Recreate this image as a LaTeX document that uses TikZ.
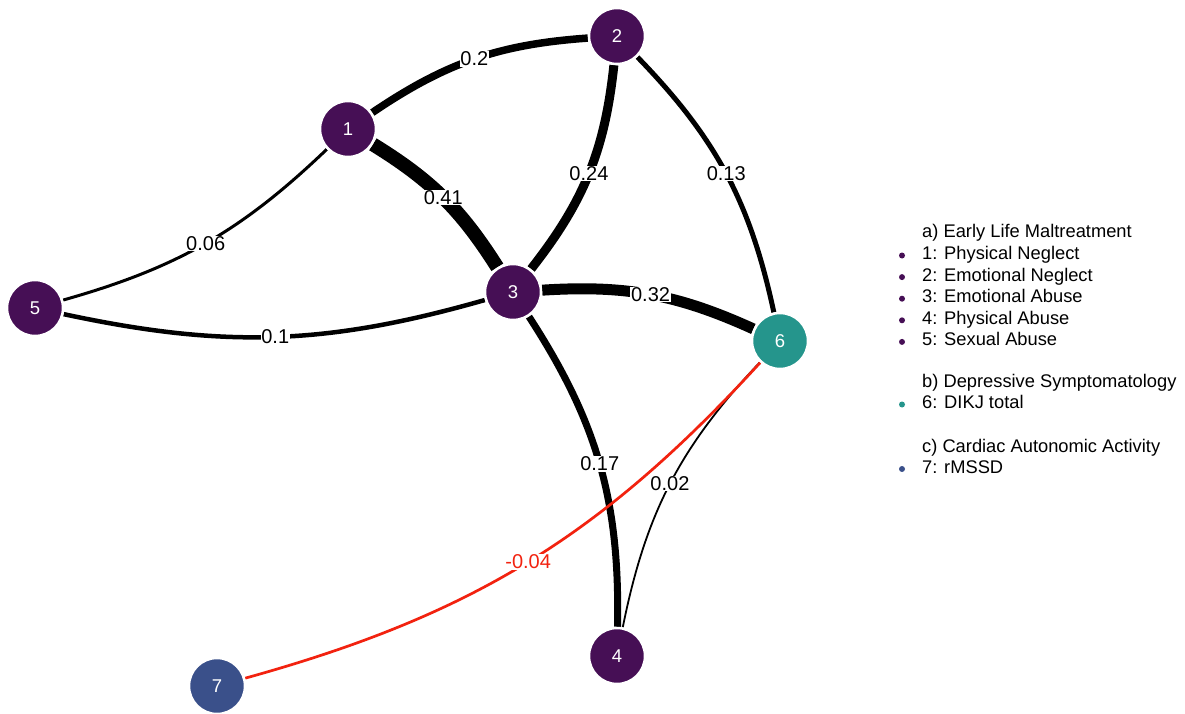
\documentclass[tikz,border=0pt]{standalone}
\usepackage{fontspec}
\setmainfont{Liberation Sans}
\definecolor{cpurple}{HTML}{460F55}
\definecolor{cteal}{HTML}{25958C}
\definecolor{cblue}{HTML}{3A508A}
\definecolor{cred}{HTML}{F2220F}
\tikzset{
  vnode/.style={circle, minimum size=56pt, inner sep=0pt, draw=white, line width=2.5pt,
    text=white, font=\fontsize{18.5}{20}\selectfont},
  edge/.style={draw=black, line cap=butt},
  elabel/.style={fill=white, inner sep=0.6pt, text=black, font=\fontsize{20}{22}\selectfont},
  rlabel/.style={elabel, text=cred},
  legtext/.style={anchor=base west, inner sep=0pt, font=\fontsize{18.3}{20}\selectfont},
  legdot/.style={circle, inner sep=0pt, minimum size=6pt}
}
\begin{document}
\begin{tikzpicture}[x=1pt,y=1pt]
\useasboundingbox (0,0) rectangle (1185,-714);
\fill[white] (0,0) rectangle (1185,-714);

\path
  (348,-129) coordinate (p1)
  (617,-36)  coordinate (p2)
  (513,-292) coordinate (p3)
  (617,-656) coordinate (p4)
  (35,-308)  coordinate (p5)
  (780,-341) coordinate (p6)
  (217,-686) coordinate (p7);

\node[vnode, fill=cpurple] (n1) at (p1) {1};
\node[vnode, fill=cpurple] (n2) at (p2) {2};
\node[vnode, fill=cpurple] (n3) at (p3) {3};
\node[vnode, fill=cpurple] (n4) at (p4) {4};
\node[vnode, fill=cpurple] (n5) at (p5) {5};
\node[vnode, fill=cteal]   (n6) at (p6) {6};
\node[vnode, fill=cblue]   (n7) at (p7) {7};

% edges
\draw[edge, line width=14pt]  (n1) to[bend left=13] node[elabel]{0.41} (n3);
\draw[edge, line width=7.5pt] (n1) to[bend left=15] node[elabel]{0.2} (n2);
\draw[edge, line width=9pt]   (n2) to[bend left=16] node[elabel]{0.24} (n3);
\draw[edge, line width=5pt]   (n2) to[bend left=16] node[elabel]{0.13} (n6);
\draw[edge, line width=3pt]   (n1) to[bend left=14] node[elabel]{0.06} (n5);
\draw[edge, line width=4.5pt] (n5) to[bend right=14] node[elabel]{0.1} (n3);
\draw[edge, line width=11pt]  (n3) to[bend left=14] node[elabel]{0.32} (n6);
\draw[edge, line width=7pt]   (n3) to[bend left=17] node[elabel]{0.17} (n4);
\draw[edge, line width=1.8pt] (n6) to[bend right=16] node[elabel]{0.02} (n4);
\draw[edge, draw=cred, line width=2.7pt] (n6) to[bend left=16] node[rlabel]{-0.04} (n7);

% redraw nodes on top of the connectors
\node[vnode, fill=cpurple] at (p1) {1};
\node[vnode, fill=cpurple] at (p2) {2};
\node[vnode, fill=cpurple] at (p3) {3};
\node[vnode, fill=cpurple] at (p4) {4};
\node[vnode, fill=cpurple] at (p5) {5};
\node[vnode, fill=cteal]   at (p6) {6};
\node[vnode, fill=cblue]   at (p7) {7};

% legend
\node[legtext] (la) at (922,-237) {a) Early Life Maltreatment};
\node[legtext] (l1) at (922,-259.5) {1: Physical Neglect};
\node[legtext] (l2) at (922,-281.1) {2: Emotional Neglect};
\node[legtext] (l3) at (922,-302.7) {3: Emotional Abuse};
\node[legtext] (l4) at (922,-324.3) {4: Physical Abuse};
\node[legtext] (l5) at (922,-345.9) {5: Sexual Abuse};
\node[legtext] (lb) at (922,-387.5) {b) Depressive Symptomatology};
\node[legtext] (l6) at (922,-408.5) {6: DIKJ total};
\node[legtext] (lc) at (922,-452) {c) Cardiac Autonomic Activity};
\node[legtext] (l7) at (922,-473) {7: rMSSD};

\node[legdot, fill=cpurple] (d1) at (902,-255.5) {};
\node[legdot, fill=cpurple] (d2) at (902,-277.1) {};
\node[legdot, fill=cpurple] (d3) at (902,-298.7) {};
\node[legdot, fill=cpurple] (d4) at (902,-320.3) {};
\node[legdot, fill=cpurple] (d5) at (902,-341.9) {};
\node[legdot, fill=cteal]   (d6) at (902,-404.5) {};
\node[legdot, fill=cblue]   (d7) at (902,-469) {};
\end{tikzpicture}
\end{document}
